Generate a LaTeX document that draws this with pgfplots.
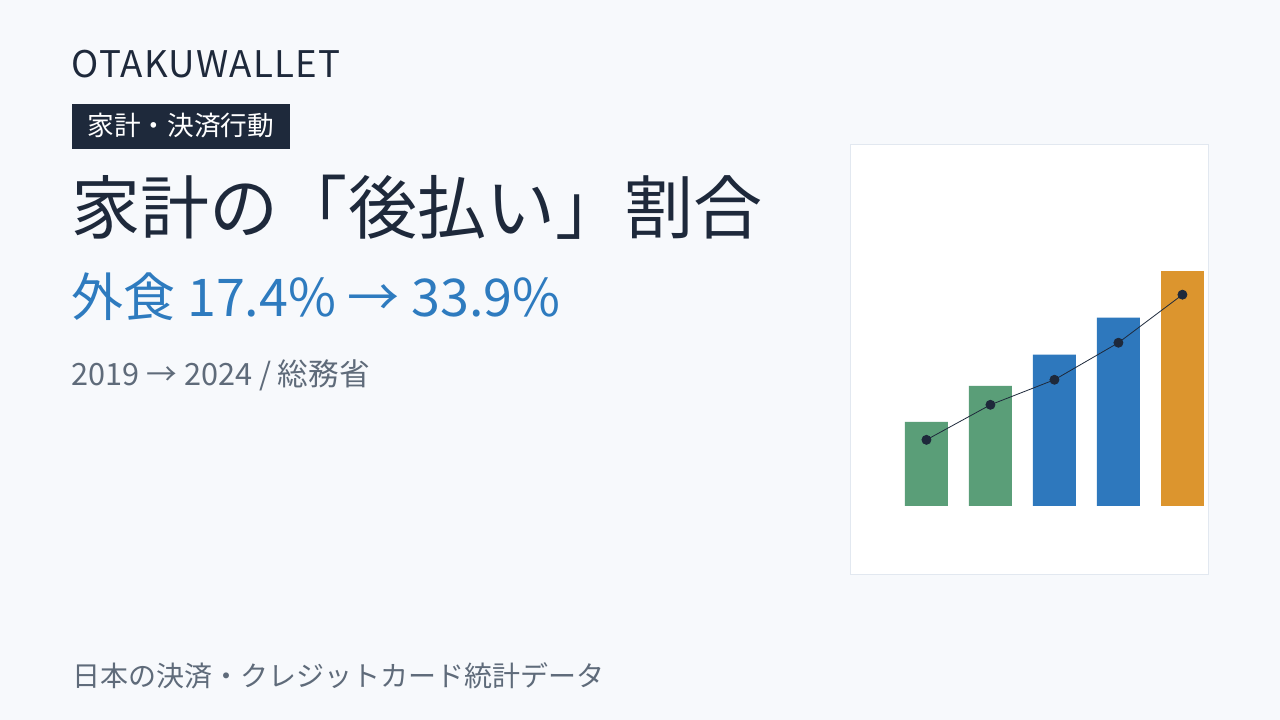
\documentclass[border=0pt]{standalone}
\usepackage{fontspec}
\setmainfont{Noto Sans CJK JP}
\usepackage{pgfplots}
\pgfplotsset{compat=1.18}

\definecolor{pagebg}{HTML}{F7F9FC}
\definecolor{ink}{HTML}{1E293B}
\definecolor{accent}{HTML}{2E7BBF}
\definecolor{muted}{HTML}{5F6B7A}
\definecolor{panelline}{HTML}{E2E8F0}
\definecolor{bargreen}{HTML}{5A9E78}
\definecolor{barblue}{HTML}{2E78BD}
\definecolor{barorange}{HTML}{DC952E}

\begin{document}
\begin{tikzpicture}
  % page 1280x720 px at 0.75pt per px
  \fill[pagebg] (0pt,0pt) rectangle (960pt,540pt);

  \node[anchor=base west, inner sep=0pt, text=ink,
    font=\fontsize{27.5pt}{30pt}\selectfont\addfontfeatures{LetterSpace=3.5}]
    at (53.5pt,482.2pt) {OTAKUWALLET};

  \fill[ink] (54pt,428.6pt) rectangle (217.5pt,462pt);
  \node[anchor=base west, inner sep=0pt, text=white, font=\fontsize{20pt}{22pt}\selectfont]
    at (65.5pt,438.3pt) {家計・決済行動};

  \node[anchor=base west, inner sep=0pt, text=ink, font=\fontsize{51.8pt}{56pt}\selectfont]
    at (53.6pt,364.5pt) {家計の「後払い」割合};

  \node[anchor=base west, inner sep=0pt, text=accent, font=\fontsize{39pt}{42pt}\selectfont]
    at (53.5pt,302.6pt) {外食 17.4\% → 33.9\%};

  \node[anchor=base west, inner sep=0pt, text=muted, font=\fontsize{23pt}{25pt}\selectfont]
    at (53.5pt,250.5pt) {2019 → 2024 / 総務省};

  \node[anchor=base west, inner sep=0pt, text=muted, font=\fontsize{21pt}{24pt}\selectfont]
    at (54.5pt,24.8pt) {日本の決済・クレジットカード統計データ};

  \begin{axis}[
      at={(637.9pt,108.75pt)}, anchor=south west,
      scale only axis,
      width=268.5pt, height=322.5pt,
      xmin=-1.186, xmax=4.408,
      ymin=-69, ymax=360.5,
      xtick=\empty, ytick=\empty,
      axis line style={panelline, line width=0.75pt},
      axis background/.style={fill=white},
      clip=false,
    ]
    % bar heights above the baseline
    \addplot[ybar, bar width=0.672, bar shift=0pt, fill=bargreen, draw=none]
      coordinates {(0,84) (1,120)};
    \addplot[ybar, bar width=0.672, bar shift=0pt, fill=barblue, draw=none]
      coordinates {(2,151) (3,188)};
    \addplot[ybar, bar width=0.672, bar shift=0pt, fill=barorange, draw=none]
      coordinates {(4,235)};
    % trend line
    \addplot[ink, line width=0.6pt, mark=*, mark size=3.4pt,
      mark options={fill=ink, draw=ink}]
      coordinates {(0,66) (1,101) (2,126) (3,163) (4,211)};
  \end{axis}
\end{tikzpicture}
\end{document}
